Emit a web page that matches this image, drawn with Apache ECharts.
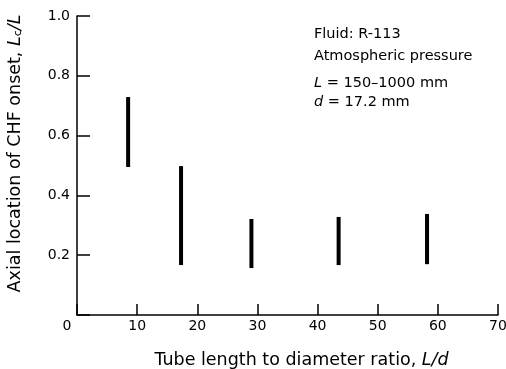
<!DOCTYPE html>
<html>
<head>
<meta charset="UTF-8">
<title>CHF onset</title>
<style>
  html, body { margin: 0; padding: 0; background: #fff; }
  #main { width: 506px; height: 369px; }
</style>
</head>
<body>
<div id="main"></div>
<script src="https://cdn.jsdelivr.net/npm/echarts@6/dist/echarts.min.js"></script>
<script>
// L/d ratio and the range of Lc/L where CHF onset was seen
var ratios = [8.5, 17.3, 29.0, 43.5, 58.2];
var lowVals = [0.495, 0.167, 0.157, 0.167, 0.170];
var highVals = [0.729, 0.498, 0.321, 0.328, 0.338];
var xTicks = [0, 10, 20, 30, 40, 50, 60, 70];
var yTicks = [0, 0.2, 0.4, 0.6, 0.8, 1.0];
var notes = ['Fluid: R-113', 'Atmospheric pressure', '{i|L} = 150\u20131000 mm', '{i|d} = 17.2 mm'];

var ranges = ratios.map(function (r, i) { return [r, lowVals[i], highVals[i]]; });

var font = 'DejaVu Sans';
var myChart = echarts.init(document.getElementById('main'));

myChart.setOption({
  animation: false,
  backgroundColor: '#fff',
  textStyle: { fontFamily: font, color: '#000' },
  grid: { left: 77, top: 16, right: 8, bottom: 54, containLabel: false, outerBoundsMode: 'none' },
  xAxis: {
    type: 'value',
    min: xTicks[0], max: xTicks[xTicks.length - 1], interval: 10,
    splitLine: { show: false },
    axisLine: { lineStyle: { color: '#000', width: 1.5 } },
    axisTick: { inside: true, length: 11, lineStyle: { color: '#000', width: 1.5 } },
    axisLabel: {
      color: '#000', fontSize: 14, margin: 4,
      formatter: function (v) { return v === 0 ? '{z|0}' : String(v); },
      rich: { z: { fontSize: 14, color: '#000', padding: [0, 20, 0, 0] } }
    },
    name: 'Tube length to diameter ratio, {i|L/d}',
    nameLocation: 'middle',
    nameGap: 36,
    nameTextStyle: {
      fontSize: 17.5, color: '#000', padding: [0, 0, 0, 28],
      rich: { i: { fontSize: 17.5, fontStyle: 'italic', color: '#000' } }
    }
  },
  yAxis: {
    type: 'value',
    min: yTicks[0], max: yTicks[yTicks.length - 1], interval: 0.2,
    splitLine: { show: false },
    axisLine: { lineStyle: { color: '#000', width: 1.5 } },
    axisTick: { inside: true, length: 13, lineStyle: { color: '#000', width: 1.5 } },
    axisLabel: {
      color: '#000', fontSize: 14, margin: 7,
      formatter: function (v) { return v === 0 ? '' : v.toFixed(1); }
    },
    name: 'Axial location of CHF onset, {i|L}{s|c}{i|/L}',
    nameLocation: 'middle',
    nameGap: 53,
    nameTextStyle: {
      fontSize: 17.5, color: '#000', padding: [0, 0, 0, 24],
      rich: {
        i: { fontSize: 17.5, fontStyle: 'italic', color: '#000' },
        s: { fontSize: 11, color: '#000', verticalAlign: 'bottom', padding: [7, 0, 0, 0] }
      }
    }
  },
  series: [{
    type: 'custom',
    data: ranges,
    renderItem: function (params, api) {
      var p1 = api.coord([api.value(0), api.value(1)]);
      var p2 = api.coord([api.value(0), api.value(2)]);
      return {
        type: 'line',
        shape: { x1: p1[0], y1: p1[1], x2: p2[0], y2: p2[1] },
        style: { stroke: '#000', lineWidth: 4 }
      };
    }
  }],
  graphic: notes.map(function (t, i) {
    return {
      type: 'text',
      left: 314,
      top: [27, 49, 76, 95][i],
      style: {
        text: t,
        font: '14.5px ' + font,
        fill: '#000',
        rich: { i: { fontStyle: 'italic', fontSize: 14.5, fontFamily: font, fill: '#000' } }
      }
    };
  })
});

window.addEventListener('resize', function () { myChart.resize(); });
</script>
</body>
</html>
